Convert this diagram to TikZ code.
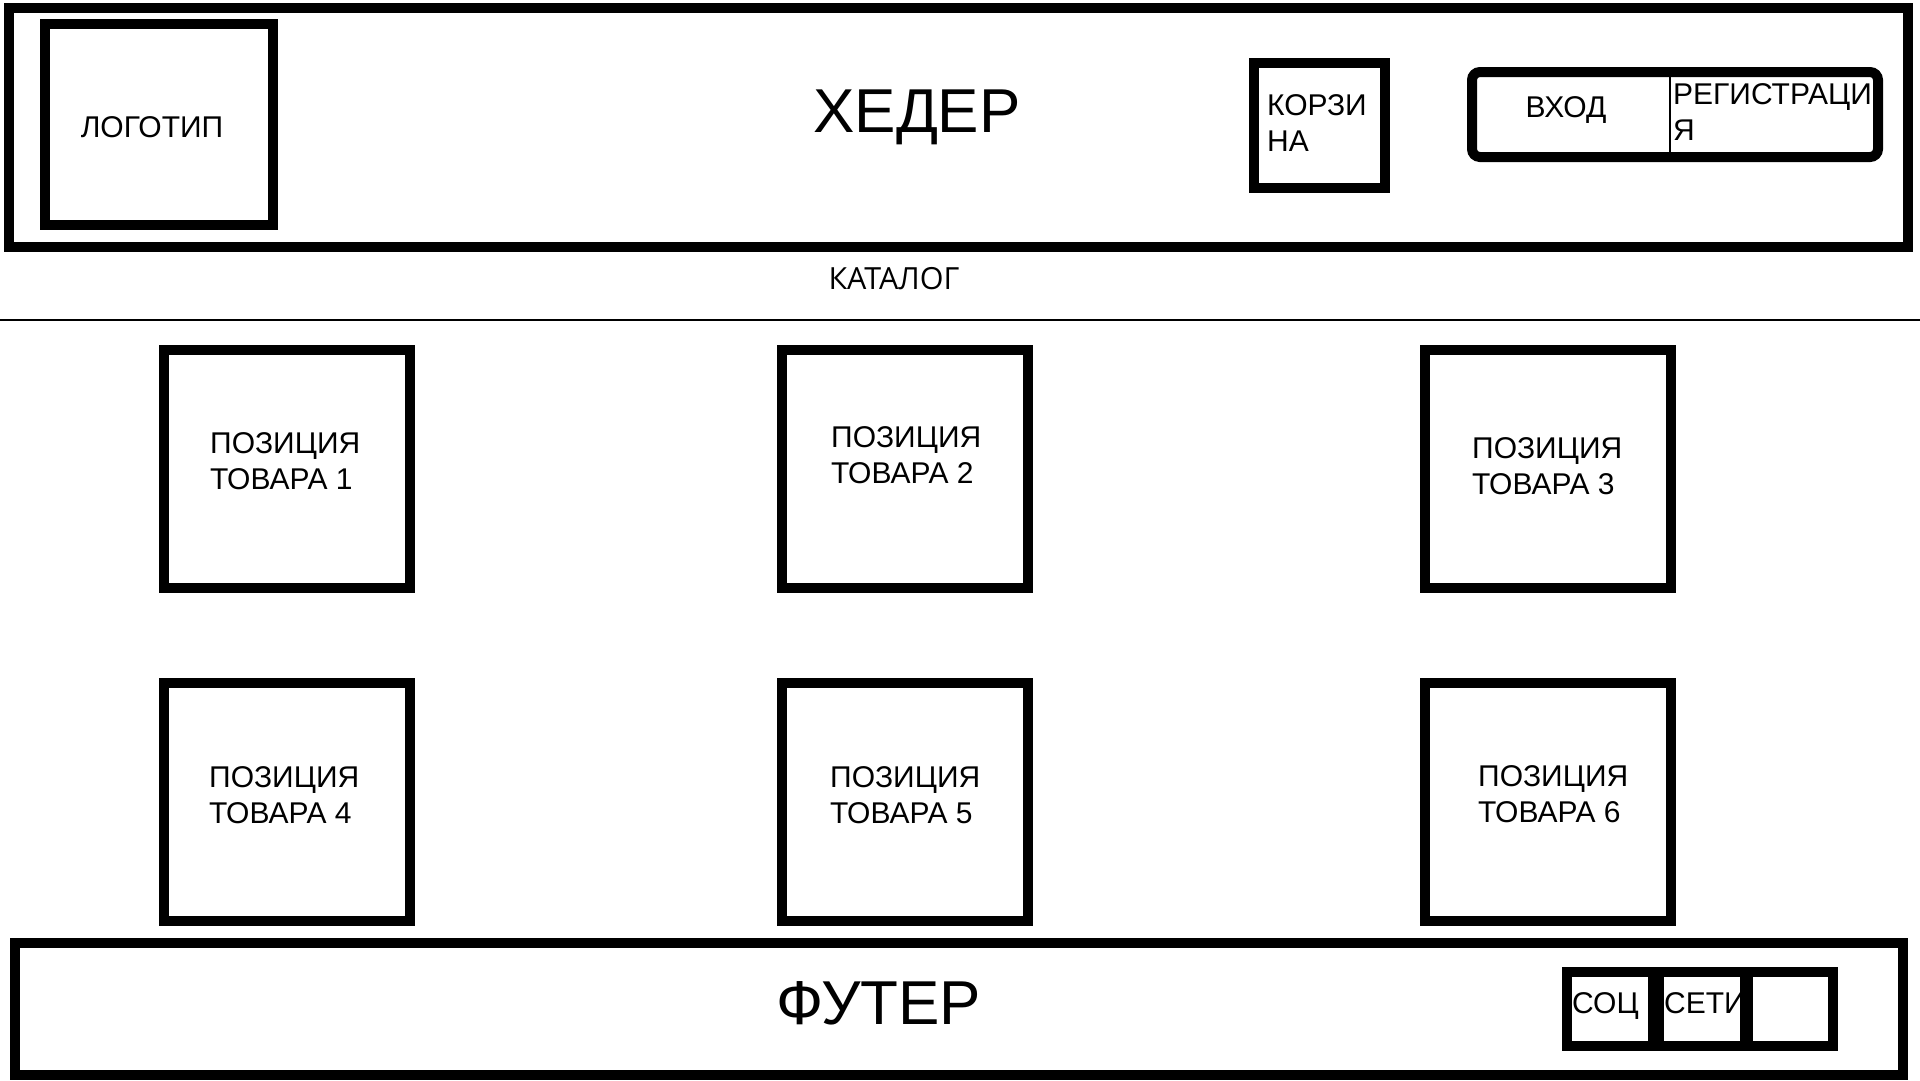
\documentclass[tikz,border=0pt]{standalone}
\usepackage{fontspec}
\setmainfont{Liberation Sans}
\newfontfamily\catfont{Open Sans}

\tikzset{
    frame/.style={line width=10pt},
    item/.style={draw, line width=10pt, minimum width=246pt, minimum height=238pt, inner sep=0pt},
    txt/.style={inner sep=0pt, align=left, font=\fontsize{30}{35.5}\selectfont},
    bigtxt/.style={inner sep=0pt, font=\fontsize{62}{70}\selectfont}
}

\begin{document}
\begin{tikzpicture}[x=1pt, y=-1pt]

    % Page area
    \useasboundingbox (0,0) rectangle (1920,1080);
    \fill[white] (0,0) rectangle (1920,1080);

    % Header frame and title
    \draw[frame] (9,8) rectangle (1908,247);
    \node[bigtxt, anchor=base] (header) at (917,132) {ХЕДЕР};

    % Logo box
    \draw[frame] (45,24) rectangle (273,225);
    \node[txt, anchor=base] (logo) at (152,137) {ЛОГОТИП};

    % Cart box
    \draw[frame] (1254,63) rectangle (1385,188);
    \node[txt, anchor=west] (cart) at (1267,123) {КОРЗИ\\НА};

    % Login / sign-up box with a thin divider
    \draw[frame, rounded corners=8pt] (1472,72) rectangle (1878,157);
    \draw[line width=1.5pt] (1670,77) -- (1670,152);
    \node[txt, anchor=base] (login) at (1566,117) {ВХОД};
    \node[txt, anchor=west] (signup) at (1673,112) {РЕГИСТРАЦИ\\Я};

    % Catalogue caption and rule
    \node[txt, font=\catfont\fontsize{30.5}{35}\selectfont, anchor=base] (catalog) at (894,289) {КАТАЛОГ};
    \draw[line width=1.2pt] (0,320) -- (1920,320);

    % Product boxes, top row
    \node[item] (pos1) at (287,469) {};
    \node[item] (pos2) at (905,469) {};
    \node[item] (pos3) at (1548,469) {};
    % Product boxes, bottom row
    \node[item] (pos4) at (287,802) {};
    \node[item] (pos5) at (905,802) {};
    \node[item] (pos6) at (1548,802) {};

    % Product captions
    \node[txt, anchor=west] (pos1txt) at (210,461) {ПОЗИЦИЯ\\ТОВАРА 1};
    \node[txt, anchor=west] (pos2txt) at (831,455) {ПОЗИЦИЯ\\ТОВАРА 2};
    \node[txt, anchor=west] (pos3txt) at (1472,466) {ПОЗИЦИЯ\\ТОВАРА 3};
    \node[txt, anchor=west] (pos4txt) at (209,795) {ПОЗИЦИЯ\\ТОВАРА 4};
    \node[txt, anchor=west] (pos5txt) at (830,795) {ПОЗИЦИЯ\\ТОВАРА 5};
    \node[txt, anchor=west] (pos6txt) at (1478,794) {ПОЗИЦИЯ\\ТОВАРА 6};

    % Footer frame and title
    \draw[frame] (15,943) rectangle (1903,1075);
    \node[bigtxt, anchor=base] (footer) at (879,1024) {ФУТЕР};

    % Social links: three cells side by side
    \draw[frame] (1567,972) rectangle (1653,1046);
    \draw[frame] (1659,972) rectangle (1745,1046);
    \draw[frame] (1748,972) rectangle (1833,1046);
    \node[txt, anchor=base west] (soc) at (1572,1013) {СОЦ};
    \node[txt, anchor=base west] (seti) at (1664,1013) {СЕТИ};

\end{tikzpicture}
\end{document}
